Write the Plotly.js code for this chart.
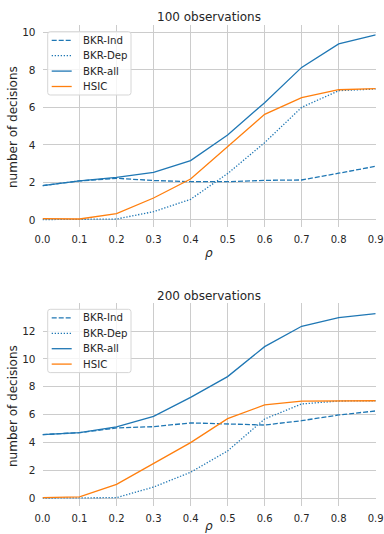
<!DOCTYPE html>
<html><head><meta charset="utf-8">
<script src="https://cdn.plot.ly/plotly-3.0.1.min.js"></script>
<style>html,body{margin:0;padding:0;background:#fff}#chart{width:384px;height:534px}</style>
</head><body><div id="chart"></div>
<script>
const rho = [0.0,0.1,0.2,0.3,0.4,0.5,0.6,0.7,0.8,0.9];
const tickVals = [0.0,0.1,0.2,0.3,0.4,0.5,0.6,0.7,0.8,0.9];
const tickText = ["0.0","0.1","0.2","0.3","0.4","0.5","0.6","0.7","0.8","0.9"];
// 100 observations
const ind100 = [1.83,2.08,2.22,2.10,2.04,2.04,2.11,2.13,2.49,2.86];
const dep100 = [0.02,0.02,0.05,0.44,1.10,2.47,4.12,6.00,6.89,6.98];
const all100 = [1.83,2.08,2.27,2.54,3.16,4.53,6.25,8.13,9.38,9.86];
const hsic100 = [0.07,0.05,0.34,1.17,2.18,3.90,5.63,6.52,6.94,7.00];
// 200 observations
const ind200 = [4.57,4.71,5.05,5.14,5.41,5.36,5.26,5.57,5.98,6.27];
const dep200 = [0.02,0.02,0.05,0.81,1.87,3.40,5.69,6.77,6.98,7.00];
const all200 = [4.57,4.71,5.12,5.88,7.24,8.73,10.88,12.34,12.96,13.25];
const hsic200 = [0.05,0.10,1.00,2.49,4.00,5.72,6.70,6.98,7.00,7.00];
const names = ["BKR-Ind","BKR-Dep","BKR-all","HSIC"];

const W = 384, H = 534;
const px = v => v / W, py = v => 1 - v / H;
const blue = "#1f77b4", orange = "#ff7f0e";
const FONT = "DejaVu Sans, sans-serif", TXT = "#262626";
const styles = [
  {color: blue, dash: "5px,2px"},
  {color: blue, dash: "1.3px,1.7px"},
  {color: blue, dash: "solid"},
  {color: orange, dash: "solid"}
];
function mk(ys, i, xa, ya) {
  return {x: rho, y: ys, name: names[i], type: "scatter", mode: "lines",
    xaxis: xa, yaxis: ya, showlegend: false,
    line: {color: styles[i].color, dash: styles[i].dash, width: 1.3}};
}
const data = [
  mk(ind100,0,"x","y"), mk(dep100,1,"x","y"), mk(all100,2,"x","y"), mk(hsic100,3,"x","y"),
  mk(ind200,0,"x2","y2"), mk(dep200,1,"x2","y2"), mk(all200,2,"x2","y2"), mk(hsic200,3,"x2","y2")
];
const xdom = [px(42.5), px(375.7)];
function xax(anchor) {
  return {domain: xdom, range: [0, 0.9], anchor: anchor, tickvals: tickVals, ticktext: tickText,
    showgrid: true, gridcolor: "#cccccc", gridwidth: 1, zeroline: false, showline: false,
    ticks: "", ticklabelstandoff: 5, tickfont: {family: FONT, size: 10, color: TXT}};
}
function yax(anchor, dom, rng, tv) {
  return {domain: dom, range: rng, anchor: anchor, tickvals: tv, ticktext: tv.map(String),
    showgrid: true, gridcolor: "#cccccc", gridwidth: 1, zeroline: false, showline: false,
    ticks: "", ticklabelstandoff: 6, tickfont: {family: FONT, size: 10.5, color: TXT}};
}
const ann = (t, x, y, o) => Object.assign({text: t, x: px(x), y: py(y), xref: "paper", yref: "paper",
  xanchor: "center", yanchor: "middle", showarrow: false,
  font: {family: FONT, size: 12, color: TXT}}, o || {});

// hand-drawn legends (matplotlib-style compact spacing)
const shapes = [], annotations = [];
function rrect(x0, y0, x1, y1, r) {
  const X = v => px(v).toFixed(5), Y = v => py(v).toFixed(5);
  return `M${X(x0+r)},${Y(y0)} L${X(x1-r)},${Y(y0)} Q${X(x1)},${Y(y0)} ${X(x1)},${Y(y0+r)} ` +
    `L${X(x1)},${Y(y1-r)} Q${X(x1)},${Y(y1)} ${X(x1-r)},${Y(y1)} L${X(x0+r)},${Y(y1)} ` +
    `Q${X(x0)},${Y(y1)} ${X(x0)},${Y(y1-r)} L${X(x0)},${Y(y0+r)} Q${X(x0)},${Y(y0)} ${X(x0+r)},${Y(y0)} Z`;
}
function legend(top) {
  shapes.push({type: "path", xref: "paper", yref: "paper", path: rrect(47.7, top, 131, top + 63.3, 2.5),
    fillcolor: "rgba(255,255,255,0.8)", line: {color: "#d6d6d6", width: 1}});
  names.forEach((n, i) => {
    const yc = top + 8.6 + i * 15.4;
    shapes.push({type: "line", xref: "paper", yref: "paper", x0: px(51.7), x1: px(71.7), y0: py(yc), y1: py(yc),
      line: {color: styles[i].color, dash: styles[i].dash, width: 1.3}});
    annotations.push(ann(n, 81.2, yc, {xanchor: "left", font: {family: FONT, size: 10.2, color: TXT}}));
  });
}
legend(31.7);
legend(309.3);
annotations.push(
  ann("100 observations", 209, 17),
  ann("number of decisions", 13, 127, {textangle: -90}),
  ann("<i>ρ</i>", 209, 253),
  ann("200 observations", 209, 295.7),
  ann("number of decisions", 13, 406, {textangle: -90}),
  ann("<i>ρ</i>", 209, 525.5)
);
const layout = {
  width: W, height: H, margin: {l: 0, r: 0, t: 0, b: 0},
  paper_bgcolor: "#fff", plot_bgcolor: "#fff", showlegend: false,
  xaxis: xax("y"),
  yaxis: yax("x", [py(226.7), py(25)], [-0.36, 10.39], [0,2,4,6,8,10]),
  xaxis2: xax("y2"),
  yaxis2: yax("x2", [py(506), py(303.3)], [-0.55, 13.99], [0,2,4,6,8,10,12]),
  shapes: shapes,
  annotations: annotations
};
Plotly.newPlot("chart", data, layout, {displayModeBar: false, staticPlot: true});
</script></body></html>
